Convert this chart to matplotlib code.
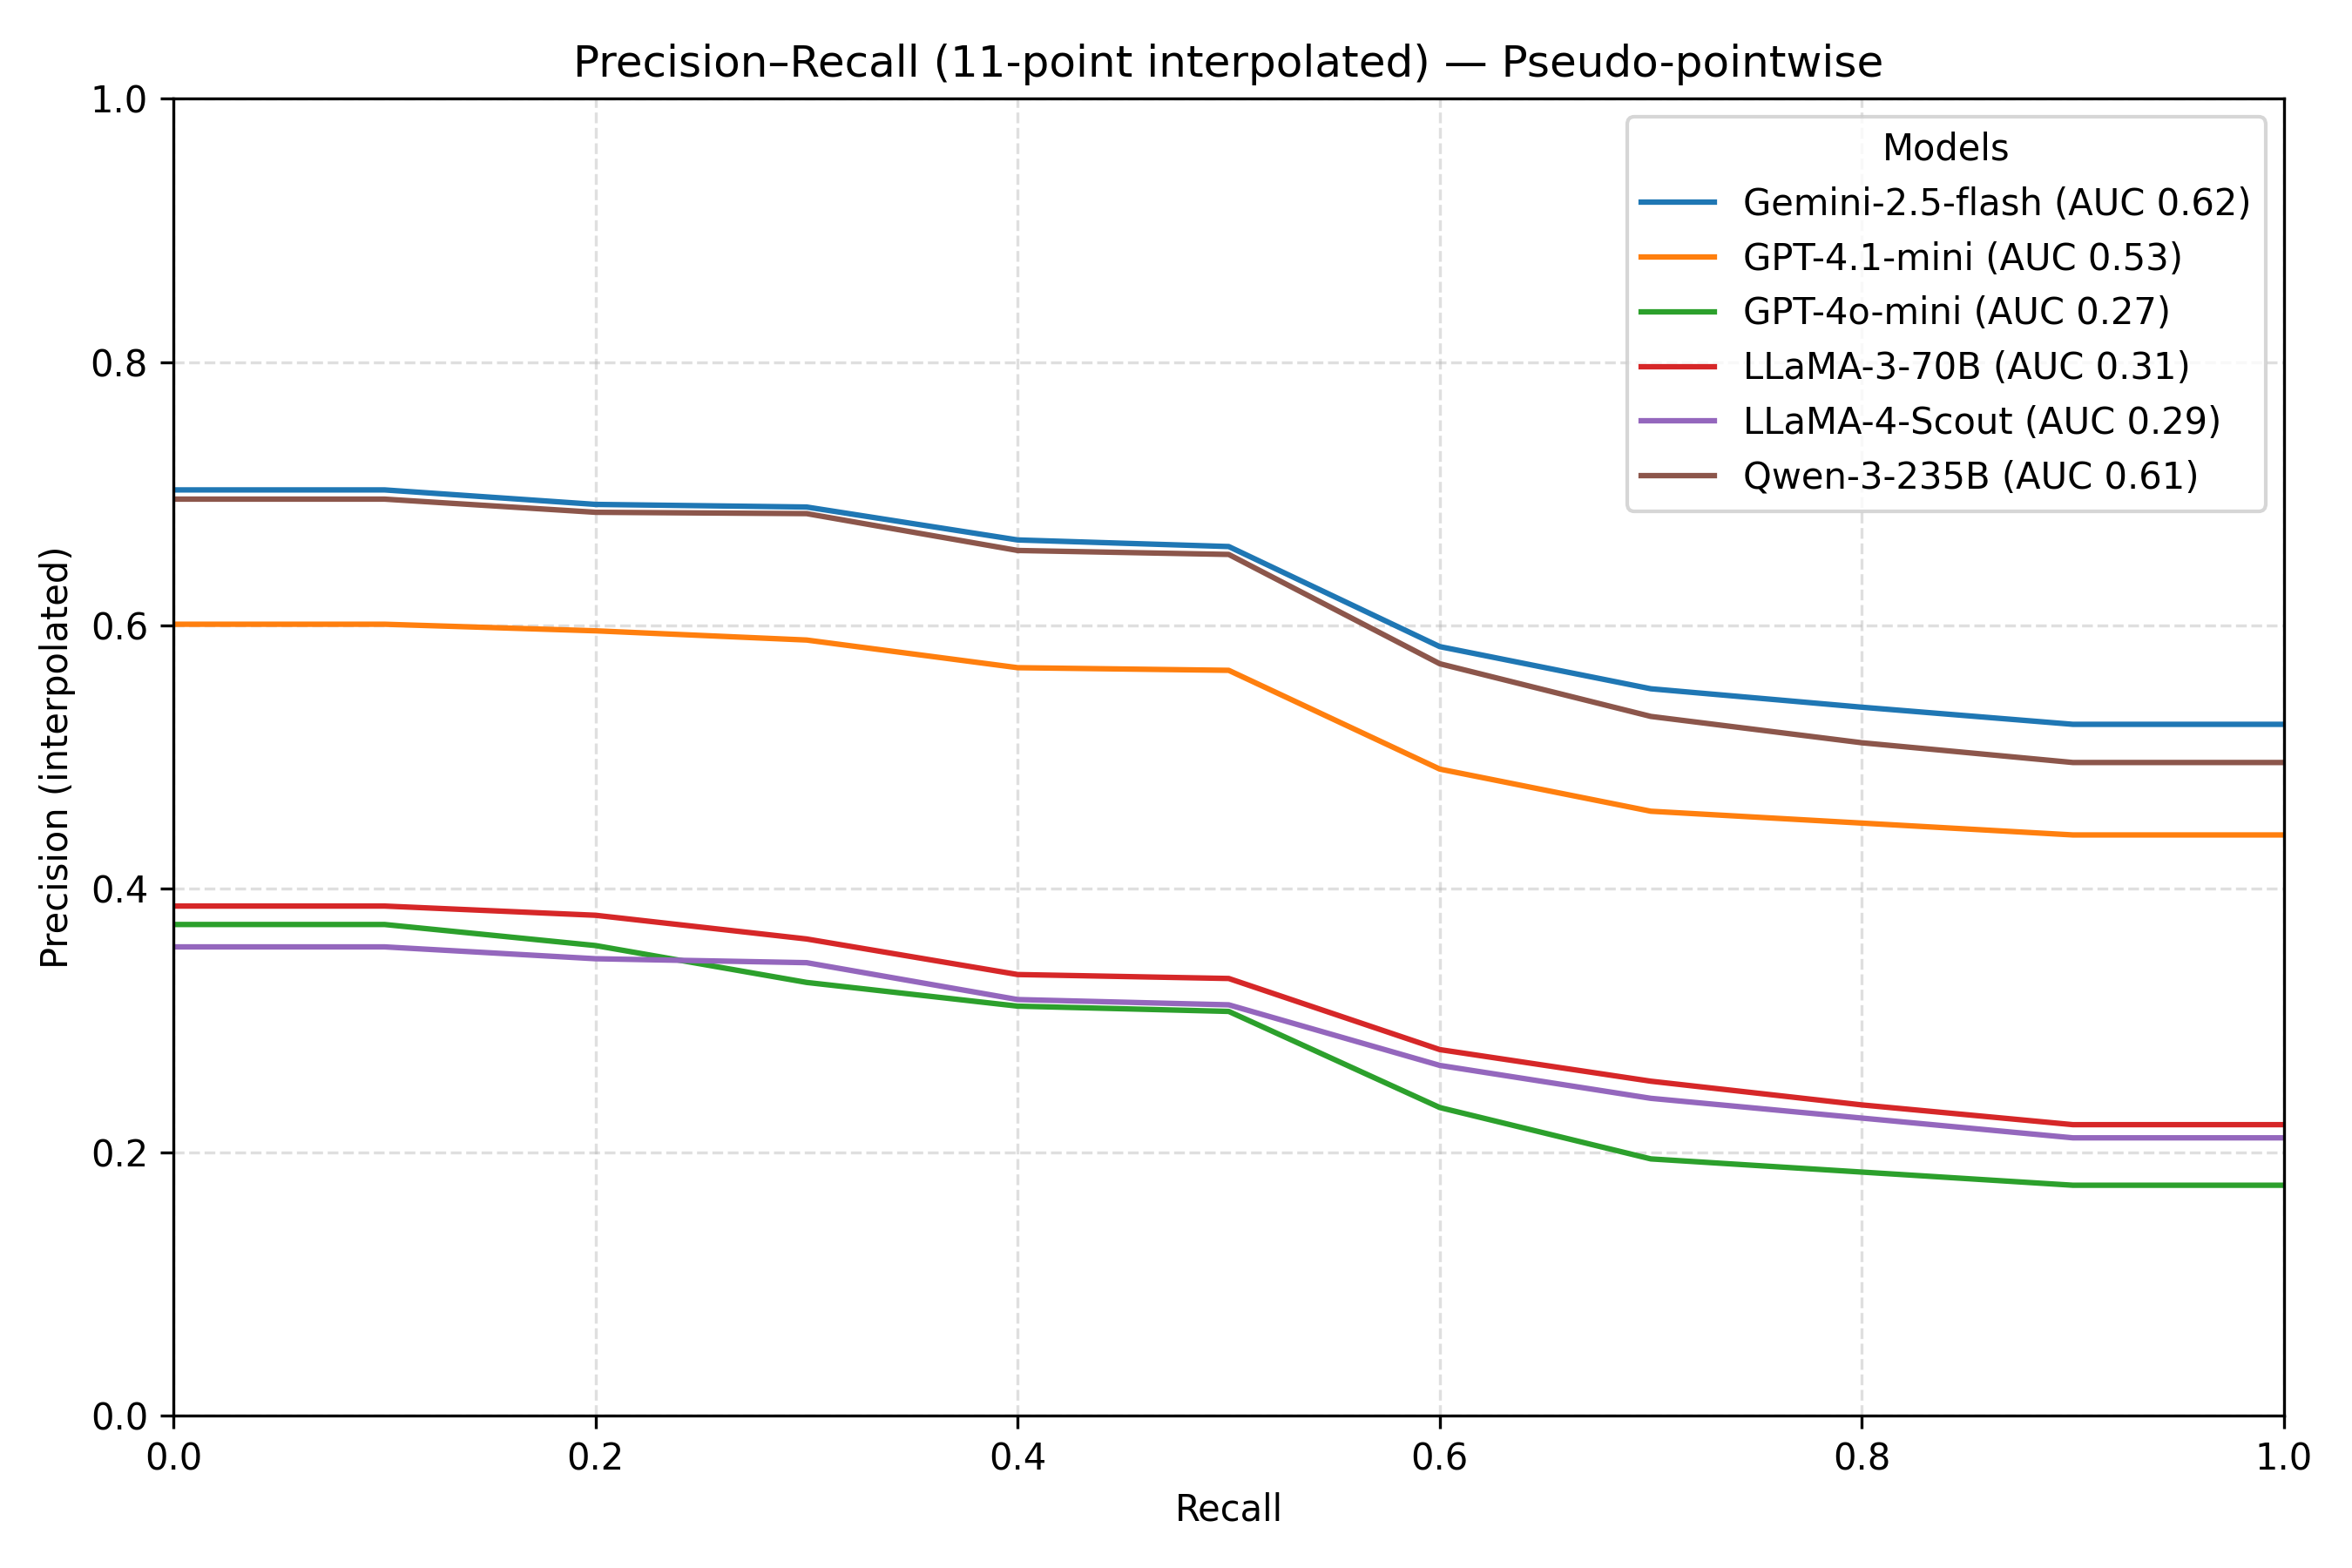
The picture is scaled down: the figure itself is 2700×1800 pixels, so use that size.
import numpy as np
import matplotlib
matplotlib.use('Agg')
import matplotlib.pyplot as plt

# 11-point recall levels
recall = np.linspace(0, 1, 11)

models = ['Gemini-2.5-flash', 'GPT-4.1-mini', 'GPT-4o-mini',
          'LLaMA-3-70B', 'LLaMA-4-Scout', 'Qwen-3-235B']
auc = [0.62, 0.53, 0.27, 0.31, 0.29, 0.61]

gemini = [0.703, 0.703, 0.692, 0.690, 0.665, 0.660, 0.584, 0.552, 0.538, 0.525, 0.525]
gpt41_mini = [0.601, 0.601, 0.596, 0.589, 0.568, 0.566, 0.491, 0.459, 0.450, 0.441, 0.441]
gpt4o_mini = [0.373, 0.373, 0.357, 0.329, 0.311, 0.307, 0.234, 0.195, 0.185, 0.175, 0.175]
llama3_70b = [0.387, 0.387, 0.380, 0.362, 0.335, 0.332, 0.278, 0.254, 0.236, 0.221, 0.221]
llama4_scout = [0.356, 0.356, 0.347, 0.344, 0.316, 0.312, 0.266, 0.241, 0.226, 0.211, 0.211]
qwen3_235b = [0.696, 0.696, 0.686, 0.685, 0.657, 0.654, 0.571, 0.531, 0.511, 0.496, 0.496]

curves = [gemini, gpt41_mini, gpt4o_mini, llama3_70b, llama4_scout, qwen3_235b]

fig, ax = plt.subplots(figsize=(9, 6), dpi=300)
for name, a, prec in zip(models, auc, curves):
    ax.plot(recall, prec, linewidth=1.5, label=f'{name} (AUC {a:.2f})')

ax.set_xlim(0, 1)
ax.set_ylim(0, 1)
ax.set_xlabel('Recall')
ax.set_ylabel('Precision (interpolated)')
ax.set_title('Precision–Recall (11-point interpolated) — Pseudo-pointwise')
ax.grid(True, linestyle='--', alpha=0.4)
ax.legend(title='Models', loc='upper right')

fig.tight_layout()
fig.subplots_adjust(top=0.937)
fig.savefig('out.png', dpi=300)
